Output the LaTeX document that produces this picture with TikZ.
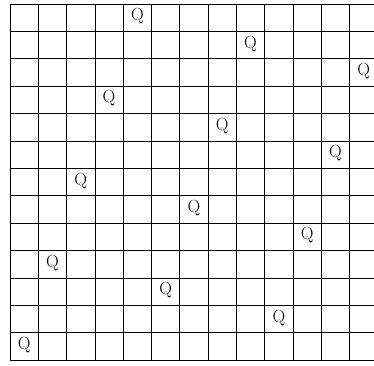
\documentclass[tikz,border=0pt]{standalone}
\begin{document}
\begin{tikzpicture}[x=0.849cm,y=0.822cm]
  \useasboundingbox (-0.353,-0.182) rectangle (12.862,13.146);
  \clip (-0.353,-0.182) rectangle (12.862,13.146);
  \draw[line width=0.6pt,step=1] (0,0) grid (13,13);
  \foreach \r in {1,...,13} {
    \pgfmathtruncatemacro{\c}{mod(4*\r,13)}
    \node[font=\fontsize{15}{17}\selectfont] (q\r) at (\c+0.5,13.55-\r) {Q};
  }
\end{tikzpicture}
\end{document}
